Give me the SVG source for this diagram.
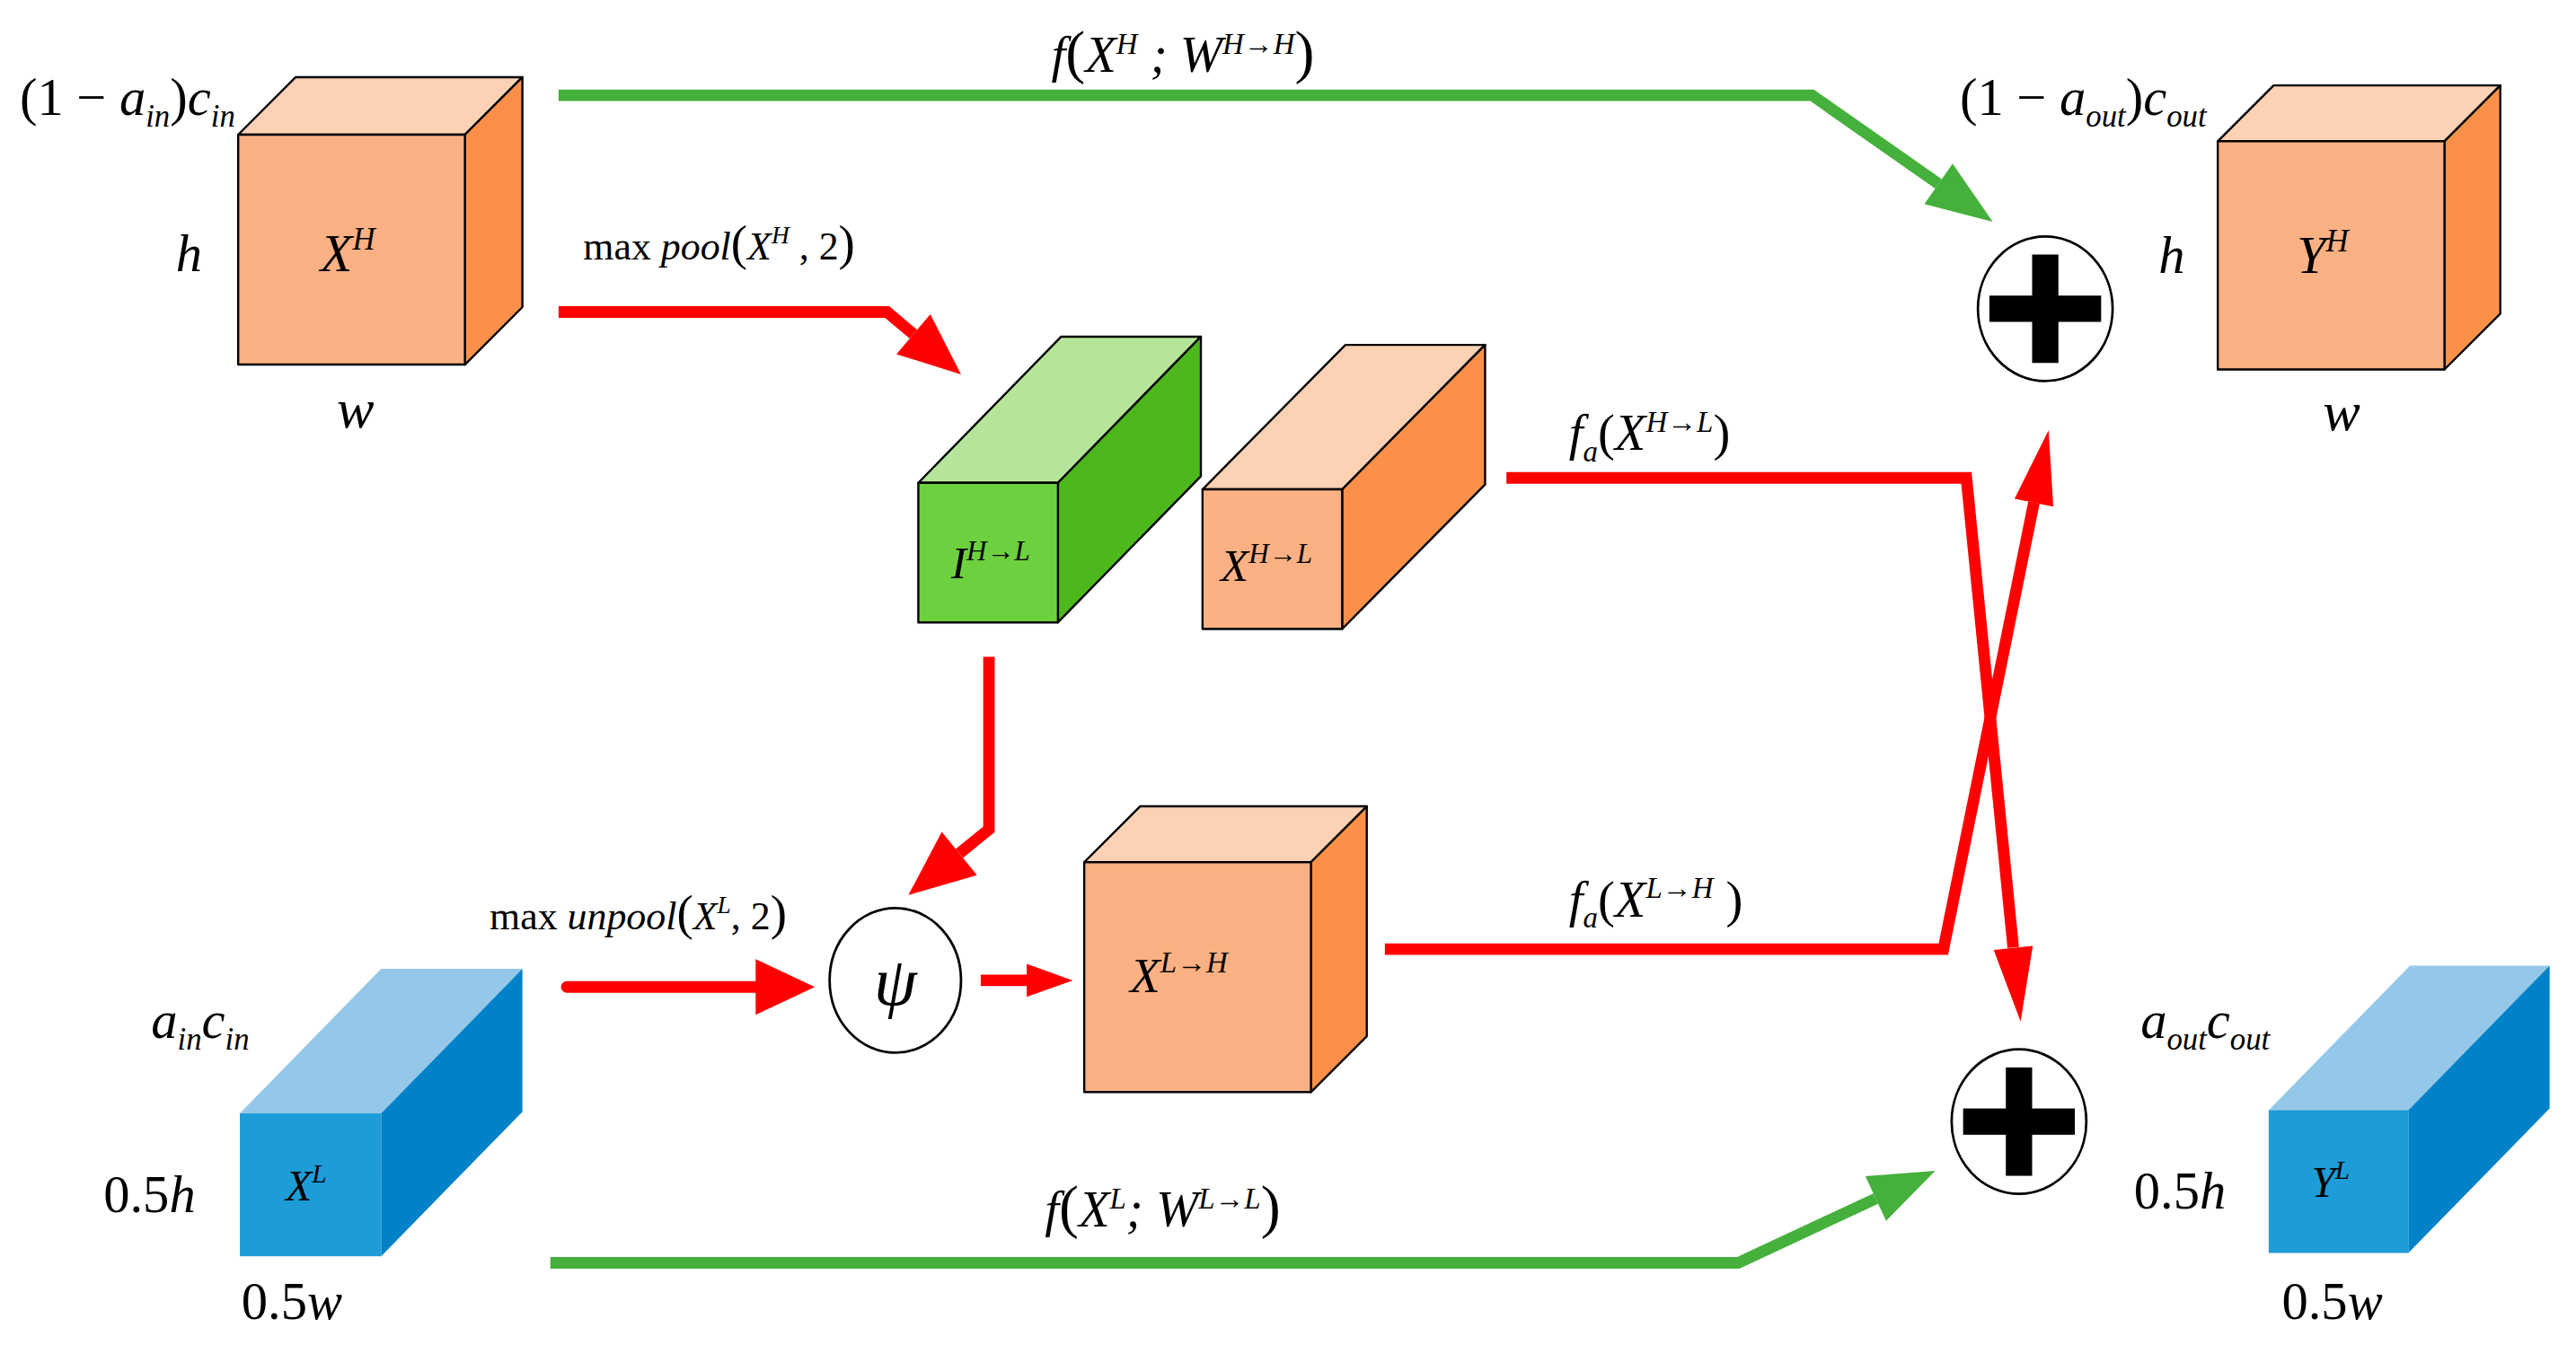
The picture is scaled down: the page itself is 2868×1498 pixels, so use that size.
<svg xmlns="http://www.w3.org/2000/svg" width="2868" height="1498" viewBox="0 0 2868 1498">
<style>
.t{font-family:"Liberation Serif","Times New Roman",serif;font-style:italic;fill:#000}
.n{font-style:normal}
.edge{stroke:#000;stroke-width:1.3;stroke-linejoin:round}
.of{fill:#FBB183}.ot{fill:#FDD1B4}.os{fill:#FB9149}
.gf{fill:#6DD13F}.gt{fill:#B5E59A}.gs{fill:#4DB81B}
.bf{fill:#1E9CD7}.bt{fill:#95C8E8}.bs{fill:#0081C8}
.r{stroke:#FF0000;stroke-width:7;fill:none}
.g{stroke:#45B03C;stroke-width:7;fill:none}
.rh{fill:#FF0000}.gh{fill:#45B03C}
</style>
<rect width="2868" height="1498" fill="#fff"/>
<g transform="scale(1.829)">
<g id="connectors">
<polyline class="g" points="340,58 1103,58 1180,112"/>
<polygon class="gh" points="1213,135 1171.4,124.3 1188.6,99.7"/>
<polyline class="r" points="340,190 540,190 556,203.5"/>
<polygon class="rh" points="585,228 545.7,215.7 566.3,191.3"/>
<polyline class="r" points="917,291 1197,291 1225.5,577"/>
<polygon class="rh" points="1230,622 1213.6,578.4 1237.4,576"/>
<polyline class="r" points="843,578 1183,578 1238.1,306"/>
<polygon class="rh" points="1247,262 1249.9,308.5 1226.3,303.7"/>
<polyline class="r" points="602,400 602,505 584,519.7"/>
<polygon class="rh" points="553,545 573.3,506.5 594.7,532.9"/>
<line class="r" x1="345" y1="601" x2="462" y2="601" stroke-linecap="round"/>
<polygon class="rh" points="460,584 496,601 460,618"/>
<line class="r" x1="597" y1="597" x2="627" y2="597"/>
<polygon class="rh" points="625,587 653,597 625,607"/>
<polyline class="g" points="335,769 1058,769 1141.8,729.9"/>
<polygon class="gh" points="1178,713 1148.1,743.5 1135.5,716.3"/>
<text class="t" x="640" y="44" font-size="31">f<tspan class="n" font-size="36">(</tspan>X<tspan dy="-11" font-size="18">H</tspan><tspan dy="11"> ; W</tspan><tspan dy="-11" font-size="18">H→H</tspan><tspan dy="11" class="n" font-size="36">)</tspan></text>
<text class="t" x="355" y="158" font-size="24"><tspan class="n">max  </tspan>pool<tspan class="n" font-size="30">(</tspan>X<tspan dy="-10" font-size="15">H</tspan><tspan dy="10" class="n"> , 2</tspan><tspan class="n" font-size="30">)</tspan></text>
<text class="t" x="955" y="274" font-size="31">f<tspan dy="7" font-size="18">a</tspan><tspan dy="-7" class="n">(</tspan>X<tspan dy="-11" font-size="18">H→L</tspan><tspan dy="11" class="n">)</tspan></text>
<text class="t" x="955" y="558" font-size="31">f<tspan dy="7" font-size="18">a</tspan><tspan dy="-7" class="n">(</tspan>X<tspan dy="-11" font-size="18">L→H</tspan><tspan dy="11" class="n"> )</tspan></text>
<text class="t" x="298" y="566" font-size="24"><tspan class="n">max </tspan>unpool<tspan class="n" font-size="30">(</tspan>X<tspan dy="-10" font-size="15">L</tspan><tspan dy="10" class="n">, 2</tspan><tspan class="n" font-size="30">)</tspan></text>
<text class="t" x="636" y="747" font-size="31">f<tspan class="n" font-size="36">(</tspan>X<tspan dy="-11" font-size="18">L</tspan><tspan dy="11">; W</tspan><tspan dy="-11" font-size="18">L→L</tspan><tspan dy="11" class="n" font-size="36">)</tspan></text>
</g>
<g id="XH">
<polygon class="ot edge" points="145,82 283,82 318,47 180,47"/>
<polygon class="os edge" points="283,82 318,47 318,187 283,222"/>
<rect class="of edge" x="145" y="82" width="138" height="140"/>
<text class="t" x="195" y="165" font-size="32">X<tspan dy="-13" font-size="19">H</tspan></text>
<text class="t" x="12" y="70" font-size="32"><tspan class="n">(1 − </tspan>a<tspan dy="7" font-size="19">in</tspan><tspan dy="-7" class="n">)</tspan>c<tspan dy="7" font-size="19">in</tspan></text>
<text class="t" x="107" y="165" font-size="32">h</text>
<text class="t" x="205" y="260" font-size="34">w</text>
</g>
<g id="IHL">
<polygon class="gt edge" points="559,294 644,294 731,205 646,205"/>
<polygon class="gs edge" points="644,294 731,205 731,290 644,379"/>
<rect class="gf edge" x="559" y="294" width="85" height="85"/>
<text class="t" x="579" y="352" font-size="28">I<tspan dy="-11" font-size="17">H→L</tspan></text>
</g>
<g id="XHL">
<polygon class="ot edge" points="732,298 817,298 904,210 819,210"/>
<polygon class="os edge" points="817,298 904,210 904,295 817,383"/>
<rect class="of edge" x="732" y="298" width="85" height="85"/>
<text class="t" x="743" y="354" font-size="28">X<tspan dy="-11" font-size="17">H→L</tspan></text>
</g>
<g id="plusTop">
<ellipse cx="1245" cy="188" rx="41" ry="44" fill="#fff" stroke="#000" stroke-width="1.5"/>
<rect x="1211" y="180" width="68" height="16"/>
<rect x="1237" y="155" width="16" height="66"/>
</g>
<g id="YH">
<polygon class="ot edge" points="1350,86 1488,86 1522,52 1384,52"/>
<polygon class="os edge" points="1488,86 1522,52 1522,191 1488,225"/>
<rect class="of edge" x="1350" y="86" width="138" height="139"/>
<text class="t" x="1398" y="166" font-size="32">Y<tspan dy="-13" font-size="19">H</tspan></text>
<text class="t" x="1193" y="70" font-size="32"><tspan class="n">(1 − </tspan>a<tspan dy="7" font-size="19">out</tspan><tspan dy="-7" class="n">)</tspan>c<tspan dy="7" font-size="19">out</tspan></text>
<text class="t" x="1314" y="166" font-size="32">h</text>
<text class="t" x="1414" y="262" font-size="34">w</text>
</g>
<g id="psi">
<ellipse cx="545" cy="597" rx="40" ry="44" fill="#fff" stroke="#000" stroke-width="1.5"/>
<text class="t" x="545" y="612" font-size="42" text-anchor="middle">ψ</text>
</g>
<g id="XLH">
<polygon class="ot edge" points="660,525 798,525 832,491 694,491"/>
<polygon class="os edge" points="798,525 832,491 832,631 798,665"/>
<rect class="of edge" x="660" y="525" width="138" height="140"/>
<text class="t" x="688" y="604" font-size="30">X<tspan dy="-12" font-size="18">L→H</tspan></text>
</g>
<g id="plusBottom">
<ellipse cx="1229" cy="683" rx="41" ry="44" fill="#fff" stroke="#000" stroke-width="1.5"/>
<rect x="1195" y="675" width="68" height="16"/>
<rect x="1221" y="650" width="16" height="66"/>
</g>
<g id="XL">
<polygon class="bt" points="146,678 232,678 318,590 232,590"/>
<polygon class="bs" points="232,678 318,590 318,677 232,765"/>
<rect class="bf" x="146" y="678" width="86" height="87"/>
<text class="t" x="174" y="731" font-size="26">X<tspan dy="-11" font-size="16">L</tspan></text>
<text class="t" x="92" y="632" font-size="32">a<tspan dy="7" font-size="19">in</tspan><tspan dy="-7">c</tspan><tspan dy="7" font-size="19">in</tspan></text>
<text class="t" x="63" y="738" font-size="32"><tspan class="n">0.5</tspan>h</text>
<text class="t" x="147" y="803" font-size="32"><tspan class="n">0.5</tspan>w</text>
</g>
<g id="YL">
<polygon class="bt" points="1381,676 1466,676 1552,588 1467,588"/>
<polygon class="bs" points="1466,676 1552,588 1552,675 1466,763"/>
<rect class="bf" x="1381" y="676" width="85" height="87"/>
<text class="t" x="1407" y="729" font-size="26">Y<tspan dy="-11" font-size="16">L</tspan></text>
<text class="t" x="1303" y="632" font-size="32">a<tspan dy="7" font-size="19">out</tspan><tspan dy="-7">c</tspan><tspan dy="7" font-size="19">out</tspan></text>
<text class="t" x="1299" y="736" font-size="32"><tspan class="n">0.5</tspan>h</text>
<text class="t" x="1389" y="803" font-size="32"><tspan class="n">0.5</tspan>w</text>
</g>
</g>
</svg>
